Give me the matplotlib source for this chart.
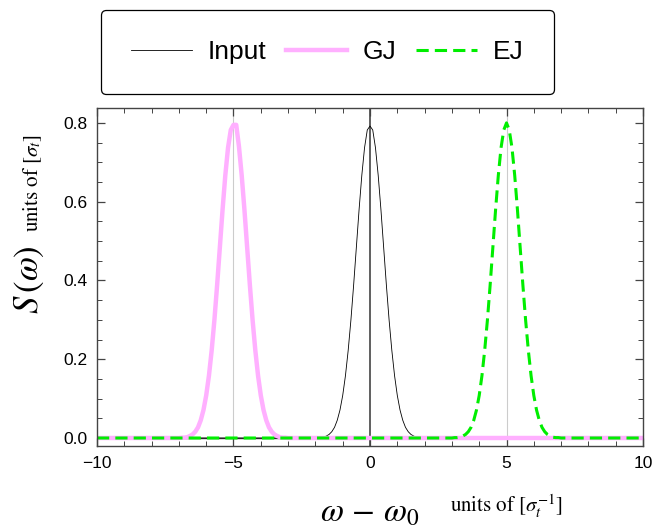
import matplotlib
matplotlib.use("Agg")
import matplotlib.pyplot as plt
import numpy as np

# frequency offsets (relative to each pulse centre) and read-off spectra
dw = [-2.0, -1.9, -1.8, -1.7, -1.6, -1.5, -1.4, -1.3, -1.2, -1.1, -1.0,
      -0.9, -0.8, -0.7, -0.6, -0.5, -0.4, -0.3, -0.2, -0.1, 0.0,
      0.1, 0.2, 0.3, 0.4, 0.5, 0.6, 0.7, 0.8, 0.9, 1.0,
      1.1, 1.2, 1.3, 1.4, 1.5, 1.6, 1.7, 1.8, 1.9, 2.0]

s_input = [0.000, 0.001, 0.001, 0.002, 0.005, 0.009, 0.016, 0.027, 0.045, 0.071, 0.108,
           0.158, 0.222, 0.299, 0.388, 0.484, 0.580, 0.667, 0.737, 0.782, 0.792,
           0.782, 0.737, 0.667, 0.580, 0.484, 0.388, 0.299, 0.222, 0.158, 0.108,
           0.071, 0.045, 0.027, 0.016, 0.009, 0.005, 0.002, 0.001, 0.001, 0.000]

s_gj = [0.000, 0.001, 0.001, 0.002, 0.005, 0.009, 0.016, 0.027, 0.045, 0.071, 0.108,
        0.158, 0.222, 0.299, 0.388, 0.484, 0.580, 0.667, 0.737, 0.782, 0.795,
        0.795, 0.740, 0.667, 0.580, 0.484, 0.388, 0.299, 0.222, 0.158, 0.108,
        0.071, 0.045, 0.027, 0.016, 0.009, 0.005, 0.002, 0.001, 0.001, 0.000]

s_ej = [0.000, 0.001, 0.001, 0.002, 0.005, 0.009, 0.016, 0.027, 0.045, 0.071, 0.108,
        0.158, 0.222, 0.299, 0.388, 0.484, 0.580, 0.667, 0.737, 0.782, 0.800,
        0.782, 0.737, 0.667, 0.580, 0.484, 0.388, 0.299, 0.222, 0.158, 0.108,
        0.071, 0.045, 0.027, 0.016, 0.009, 0.005, 0.002, 0.001, 0.001, 0.000]

centers = {"Input": 0.0, "GJ": -5.0, "EJ": 5.0}
x_range = [-10, 10]
x_ticks = [-10, -5, 0, 5, 10]
y_ticks = [0.0, 0.2, 0.4, 0.6, 0.8]


def full_curve(center, vals):
    x = [x_range[0]] + [center + d for d in dw] + [x_range[1]]
    y = [0.0] + list(vals) + [0.0]
    return x, y


plt.rcParams['font.family'] = ['Liberation Sans', 'DejaVu Sans']
plt.rcParams['mathtext.fontset'] = 'stix'

fig = plt.figure(figsize=(6.68, 5.27), dpi=100)
ax = fig.add_axes([0.1452, 0.1537, 0.8174, 0.6415])

# grid / axes lines
for gx in [-5, 5]:
    ax.axvline(gx, color='#cccccc', lw=0.8, zorder=0)
ax.axvline(0, color='#444444', lw=1.2, zorder=0)
ax.axhline(0, color='#444444', lw=1.0, zorder=0)

x, y = full_curve(centers["Input"], s_input)
ax.plot(x, y, color='black', lw=0.6, label='Input')
x, y = full_curve(centers["GJ"], s_gj)
ax.plot(x, y, color='#ffb0ff', lw=3.2, label='GJ')
x, y = full_curve(centers["EJ"], s_ej)
ax.plot(x, y, color='#00ee00', lw=2.2, dashes=(4, 2), label='EJ')

ax.set_xlim(x_range)
ax.set_ylim(-0.0203, 0.838)
ax.set_xticks(x_ticks)
ax.set_yticks(y_ticks)
ax.set_yticklabels(["%.1f" % v for v in y_ticks])
ax.set_xticks(np.arange(-10, 11, 1), minor=True)
ax.set_yticks(np.arange(0, 0.81, 0.05), minor=True)
ax.tick_params(which='both', direction='in', top=True, right=True,
               color='#444444', labelsize=12.5, pad=7)
ax.tick_params(which='major', length=6, width=0.9)
ax.tick_params(which='minor', length=3.5, width=0.7)
for sp in ax.spines.values():
    sp.set_color('#444444')
    sp.set_linewidth(1.0)

# axis labels
fig.text(38 / 668, 1 - 280 / 527, r'$S\,(\omega)$', rotation=90, rotation_mode='anchor',
         ha='center', va='baseline', fontsize=25)
fig.text(38 / 668, 1 - 183 / 527, r'units of $[\sigma_t]$', rotation=90, rotation_mode='anchor',
         ha='center', va='baseline', fontsize=15, family='STIXGeneral')
fig.text(370 / 668, 1 - 521 / 527, r'$\omega\, -\, \omega_0$', ha='center', va='baseline',
         fontsize=24)
fig.text(506 / 668, 1 - 513 / 527, r'units of $[\sigma_t^{-1}]$', ha='center', va='baseline',
         fontsize=15, family='STIXGeneral')

leg = fig.legend(loc='center', bbox_to_anchor=(327.5 / 668, 1 - 52 / 527), ncol=3,
                 fontsize=19, frameon=True, fancybox=True, edgecolor='black',
                 framealpha=1, handlelength=2.3, handletextpad=0.6,
                 columnspacing=0.75, borderpad=1.15)
leg.get_frame().set_linewidth(0.9)

fig.savefig('out.png', dpi=100)
